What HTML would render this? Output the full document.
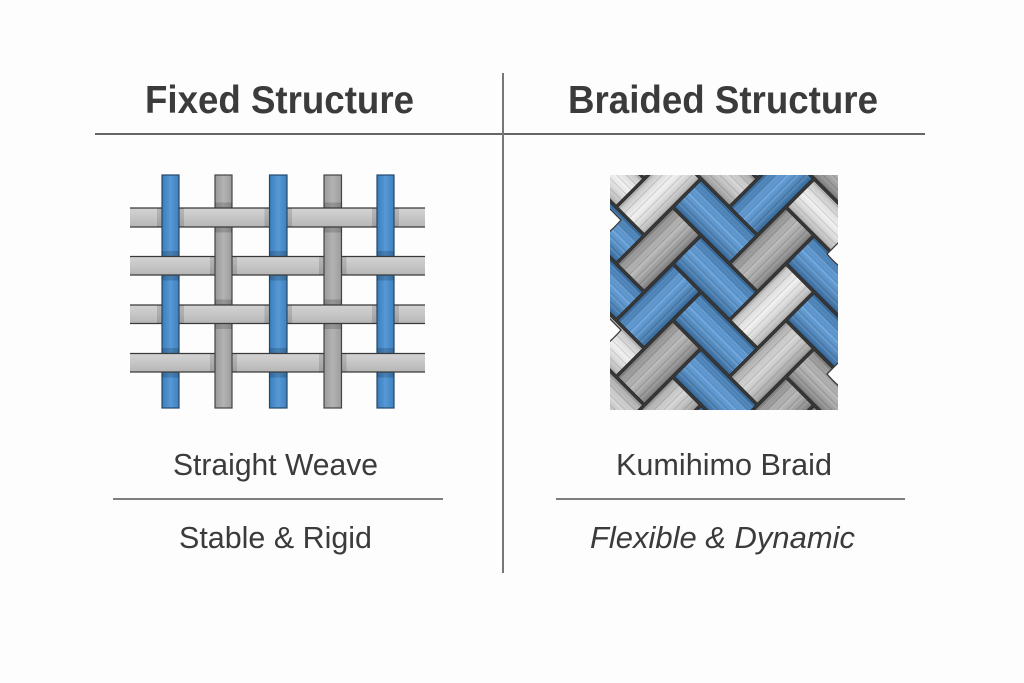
<!DOCTYPE html>
<html>
<head>
<meta charset="utf-8">
<style>
  html,body{margin:0;padding:0;background:#fdfdfd;}
  svg{display:block;}
  .t{font-family:"Liberation Sans",Arial,sans-serif;fill:#3b3b3b;}
</style>
</head>
<body>
<svg width="1024" height="683" viewBox="0 0 1024 683" xmlns="http://www.w3.org/2000/svg">
<defs>
  <linearGradient id="gb" x1="0" y1="0" x2="1" y2="0">
    <stop offset="0" stop-color="#3c7dba"/><stop offset="0.5" stop-color="#5699d6"/><stop offset="1" stop-color="#3f80bd"/>
  </linearGradient>
  <linearGradient id="gg" x1="0" y1="0" x2="1" y2="0">
    <stop offset="0" stop-color="#9a9a9a"/><stop offset="0.5" stop-color="#b3b3b3"/><stop offset="1" stop-color="#9c9c9c"/>
  </linearGradient>
  <linearGradient id="gh" x1="0" y1="0" x2="0" y2="1">
    <stop offset="0" stop-color="#d3d3d3"/><stop offset="0.5" stop-color="#c6c6c6"/><stop offset="1" stop-color="#b5b5b5"/>
  </linearGradient>
  <clipPath id="bc"><rect x="610" y="175" width="228" height="235"/></clipPath>
  <pattern id="fh" patternUnits="userSpaceOnUse" width="12" height="7">
    <path d="M0 3H12" stroke="#000" stroke-opacity="0.18" stroke-width="0.8"/>
    <path d="M0 5.2H12" stroke="#fff" stroke-opacity="0.28" stroke-width="0.6"/>
  </pattern>
  <pattern id="fv" patternUnits="userSpaceOnUse" width="7" height="12">
    <path d="M3 0V12" stroke="#000" stroke-opacity="0.18" stroke-width="0.8"/>
    <path d="M5.2 0V12" stroke="#fff" stroke-opacity="0.28" stroke-width="0.6"/>
  </pattern>
  <linearGradient id="sh" x1="0" y1="0" x2="0" y2="1">
    <stop offset="0" stop-color="#000" stop-opacity="0.22"/>
    <stop offset="0.45" stop-color="#fff" stop-opacity="0.14"/>
    <stop offset="1" stop-color="#000" stop-opacity="0.26"/>
  </linearGradient>
  <linearGradient id="sv" x1="0" y1="0" x2="1" y2="0">
    <stop offset="0" stop-color="#000" stop-opacity="0.22"/>
    <stop offset="0.45" stop-color="#fff" stop-opacity="0.14"/>
    <stop offset="1" stop-color="#000" stop-opacity="0.26"/>
  </linearGradient>
  <g id="ovh">
    <rect x="1.2" y="1.2" width="77.6" height="37.6" fill="url(#fh)"/>
    <rect x="1.2" y="1.2" width="77.6" height="37.6" fill="url(#sh)"/>
  </g>
  <g id="ovv">
    <rect x="1.2" y="1.2" width="37.6" height="77.6" fill="url(#fv)"/>
    <rect x="1.2" y="1.2" width="37.6" height="77.6" fill="url(#sv)"/>
  </g>
</defs>

<rect x="0" y="0" width="1024" height="683" fill="#fdfdfd"/>

<!-- Divider lines -->
<line x1="95" y1="134" x2="925" y2="134" stroke="#666" stroke-width="2"/>
<line x1="503" y1="73" x2="503" y2="573" stroke="#777" stroke-width="2"/>
<line x1="113" y1="499" x2="443" y2="499" stroke="#555" stroke-width="1.5"/>
<line x1="556" y1="499" x2="905" y2="499" stroke="#555" stroke-width="1.5"/>

<!-- Titles -->
<text class="t" x="145" y="113" font-size="39" font-weight="bold" textLength="269" lengthAdjust="spacingAndGlyphs">Fixed Structure</text>
<text class="t" x="568" y="113" font-size="39" font-weight="bold" textLength="310" lengthAdjust="spacingAndGlyphs">Braided Structure</text>

<!-- Labels -->
<text class="t" x="173" y="475" font-size="31" textLength="205" lengthAdjust="spacingAndGlyphs">Straight Weave</text>
<text class="t" x="179" y="548" font-size="31" textLength="193" lengthAdjust="spacingAndGlyphs">Stable &amp; Rigid</text>
<text class="t" x="616" y="475" font-size="31" textLength="216" lengthAdjust="spacingAndGlyphs">Kumihimo Braid</text>
<text class="t" x="590" y="548" font-size="31" font-style="italic" textLength="265" lengthAdjust="spacingAndGlyphs">Flexible &amp; Dynamic</text>

<!-- ===== Straight weave ===== -->
<g>
  <rect x="162" y="175" width="17" height="233" fill="url(#gb)" stroke="#24486c" stroke-width="1.2"/>
  <rect x="215" y="175" width="17" height="233" fill="url(#gg)" stroke="#444" stroke-width="1.2"/>
  <rect x="269.5" y="175" width="17.5" height="233" fill="url(#gb)" stroke="#24486c" stroke-width="1.2"/>
  <rect x="324" y="175" width="17.5" height="233" fill="url(#gg)" stroke="#444" stroke-width="1.2"/>
  <rect x="377" y="175" width="17" height="233" fill="url(#gb)" stroke="#24486c" stroke-width="1.2"/>

  <g fill="#000" fill-opacity="0.16">
    <rect x="162" y="251" width="17" height="5.5"/><rect x="162" y="275" width="17" height="5.5"/>
    <rect x="269.5" y="251" width="17.5" height="5.5"/><rect x="269.5" y="275" width="17.5" height="5.5"/>
    <rect x="377" y="251" width="17" height="5.5"/><rect x="377" y="275" width="17" height="5.5"/>
    <rect x="162" y="348" width="17" height="5.5"/><rect x="162" y="372" width="17" height="5.5"/>
    <rect x="269.5" y="348" width="17.5" height="5.5"/><rect x="269.5" y="372" width="17.5" height="5.5"/>
    <rect x="377" y="348" width="17" height="5.5"/><rect x="377" y="372" width="17" height="5.5"/>
    <rect x="215" y="202.5" width="17" height="5.5"/><rect x="215" y="227" width="17" height="5.5"/>
    <rect x="324" y="202.5" width="17.5" height="5.5"/><rect x="324" y="227" width="17.5" height="5.5"/>
    <rect x="215" y="299.5" width="17" height="5.5"/><rect x="215" y="323.5" width="17" height="5.5"/>
    <rect x="324" y="299.5" width="17.5" height="5.5"/><rect x="324" y="323.5" width="17.5" height="5.5"/>
  </g>

  <g>
    <rect x="130" y="208" width="295" height="19" fill="url(#gh)"/>
    <line x1="130" y1="208" x2="425" y2="208" stroke="#3a3a3a" stroke-width="1.3"/>
    <line x1="130" y1="227" x2="425" y2="227" stroke="#3a3a3a" stroke-width="1.3"/>
    <rect x="130" y="256.5" width="295" height="18.5" fill="url(#gh)"/>
    <line x1="130" y1="256.5" x2="425" y2="256.5" stroke="#3a3a3a" stroke-width="1.3"/>
    <line x1="130" y1="275" x2="425" y2="275" stroke="#3a3a3a" stroke-width="1.3"/>
    <rect x="130" y="305" width="295" height="18.5" fill="url(#gh)"/>
    <line x1="130" y1="305" x2="425" y2="305" stroke="#3a3a3a" stroke-width="1.3"/>
    <line x1="130" y1="323.5" x2="425" y2="323.5" stroke="#3a3a3a" stroke-width="1.3"/>
    <rect x="130" y="353.5" width="295" height="18.5" fill="url(#gh)"/>
    <line x1="130" y1="353.5" x2="425" y2="353.5" stroke="#3a3a3a" stroke-width="1.3"/>
    <line x1="130" y1="372" x2="425" y2="372" stroke="#3a3a3a" stroke-width="1.3"/>
  </g>

  <g fill="#000" fill-opacity="0.13">
    <rect x="157" y="208" width="5" height="19"/><rect x="179" y="208" width="5" height="19"/>
    <rect x="264.5" y="208" width="5" height="19"/><rect x="287" y="208" width="5" height="19"/>
    <rect x="372" y="208" width="5" height="19"/><rect x="394" y="208" width="5" height="19"/>
    <rect x="157" y="305" width="5" height="18.5"/><rect x="179" y="305" width="5" height="18.5"/>
    <rect x="264.5" y="305" width="5" height="18.5"/><rect x="287" y="305" width="5" height="18.5"/>
    <rect x="372" y="305" width="5" height="18.5"/><rect x="394" y="305" width="5" height="18.5"/>
    <rect x="210" y="256.5" width="5" height="18.5"/><rect x="232" y="256.5" width="5" height="18.5"/>
    <rect x="319" y="256.5" width="5" height="18.5"/><rect x="341.5" y="256.5" width="5" height="18.5"/>
    <rect x="210" y="353.5" width="5" height="18.5"/><rect x="232" y="353.5" width="5" height="18.5"/>
    <rect x="319" y="353.5" width="5" height="18.5"/><rect x="341.5" y="353.5" width="5" height="18.5"/>
  </g>

  <g>
    <rect x="162" y="207" width="17" height="21" fill="url(#gb)"/>
    <rect x="269.5" y="207" width="17.5" height="21" fill="url(#gb)"/>
    <rect x="377" y="207" width="17" height="21" fill="url(#gb)"/>
    <rect x="162" y="304" width="17" height="20.5" fill="url(#gb)"/>
    <rect x="269.5" y="304" width="17.5" height="20.5" fill="url(#gb)"/>
    <rect x="377" y="304" width="17" height="20.5" fill="url(#gb)"/>
    <g stroke="#24486c" stroke-width="1.2">
      <line x1="162" y1="207" x2="162" y2="228"/><line x1="179" y1="207" x2="179" y2="228"/>
      <line x1="269.5" y1="207" x2="269.5" y2="228"/><line x1="287" y1="207" x2="287" y2="228"/>
      <line x1="377" y1="207" x2="377" y2="228"/><line x1="394" y1="207" x2="394" y2="228"/>
      <line x1="162" y1="304" x2="162" y2="324.5"/><line x1="179" y1="304" x2="179" y2="324.5"/>
      <line x1="269.5" y1="304" x2="269.5" y2="324.5"/><line x1="287" y1="304" x2="287" y2="324.5"/>
      <line x1="377" y1="304" x2="377" y2="324.5"/><line x1="394" y1="304" x2="394" y2="324.5"/>
    </g>
  </g>
  <g>
    <rect x="215" y="255.5" width="17" height="20.5" fill="url(#gg)"/>
    <rect x="324" y="255.5" width="17.5" height="20.5" fill="url(#gg)"/>
    <rect x="215" y="352.5" width="17" height="20.5" fill="url(#gg)"/>
    <rect x="324" y="352.5" width="17.5" height="20.5" fill="url(#gg)"/>
    <g stroke="#444" stroke-width="1.2">
      <line x1="215" y1="255.5" x2="215" y2="276"/><line x1="232" y1="255.5" x2="232" y2="276"/>
      <line x1="324" y1="255.5" x2="324" y2="276"/><line x1="341.5" y1="255.5" x2="341.5" y2="276"/>
      <line x1="215" y1="352.5" x2="215" y2="373"/><line x1="232" y1="352.5" x2="232" y2="373"/>
      <line x1="324" y1="352.5" x2="324" y2="373"/><line x1="341.5" y1="352.5" x2="341.5" y2="373"/>
    </g>
  </g>
</g>

<!-- ===== Kumihimo braid ===== -->
<g clip-path="url(#bc)">
  <rect x="610" y="175" width="228" height="235" fill="#3a3a3a"/>
  <g transform="translate(701,292) rotate(45)" stroke="#2f2f2f" stroke-width="0.8">
    <rect x="-38.8" y="-198.8" width="77.6" height="37.6" fill="#a9a9a9"/><use href="#ovh" x="-40" y="-200"/>
    <rect x="1.2" y="-158.8" width="77.6" height="37.6" fill="#ededed"/><use href="#ovh" x="0" y="-160"/>
    <rect x="-118.8" y="-118.8" width="77.6" height="37.6" fill="#cdcdcd"/><use href="#ovh" x="-120" y="-120"/>
    <rect x="41.2" y="-118.8" width="77.6" height="37.6" fill="#4a8ed0"/><use href="#ovh" x="40" y="-120"/>
    <rect x="-78.8" y="-78.8" width="77.6" height="37.6" fill="#4a8ed0"/><use href="#ovh" x="-80" y="-80"/>
    <rect x="81.2" y="-78.8" width="77.6" height="37.6" fill="#4a8ed0"/><use href="#ovh" x="80" y="-80"/>
    <rect x="-198.8" y="-38.8" width="77.6" height="37.6" fill="#ededed"/><use href="#ovh" x="-200" y="-40"/>
    <rect x="-38.8" y="-38.8" width="77.6" height="37.6" fill="#4a8ed0"/><use href="#ovh" x="-40" y="-40"/>
    <rect x="121.2" y="-38.8" width="77.6" height="37.6" fill="#a9a9a9"/><use href="#ovh" x="120" y="-40"/>
    <rect x="-158.8" y="1.2" width="77.6" height="37.6" fill="#4a8ed0"/><use href="#ovh" x="-160" y="0"/>
    <rect x="1.2" y="1.2" width="77.6" height="37.6" fill="#4a8ed0"/><use href="#ovh" x="0" y="0"/>
    <rect x="161.2" y="1.2" width="77.6" height="37.6" fill="#a9a9a9"/><use href="#ovh" x="160" y="0"/>
    <rect x="-118.8" y="41.2" width="77.6" height="37.6" fill="#4a8ed0"/><use href="#ovh" x="-120" y="40"/>
    <rect x="41.2" y="41.2" width="77.6" height="37.6" fill="#4a8ed0"/><use href="#ovh" x="40" y="40"/>
    <rect x="-78.8" y="81.2" width="77.6" height="37.6" fill="#ededed"/><use href="#ovh" x="-80" y="80"/>
    <rect x="81.2" y="81.2" width="77.6" height="37.6" fill="#4a8ed0"/><use href="#ovh" x="80" y="80"/>
    <rect x="-38.8" y="121.2" width="77.6" height="37.6" fill="#cdcdcd"/><use href="#ovh" x="-40" y="120"/>
    <rect x="1.2" y="161.2" width="77.6" height="37.6" fill="#a9a9a9"/><use href="#ovh" x="0" y="160"/>

    <rect x="-158.8" y="-118.8" width="37.6" height="77.6" fill="#a9a9a9"/><use href="#ovv" x="-160" y="-120"/>
    <rect x="-118.8" y="-78.8" width="37.6" height="77.6" fill="#ededed"/><use href="#ovv" x="-120" y="-80"/>
    <rect x="-78.8" y="-198.8" width="37.6" height="77.6" fill="#4a8ed0"/><use href="#ovv" x="-80" y="-200"/>
    <rect x="-78.8" y="-38.8" width="37.6" height="77.6" fill="#a9a9a9"/><use href="#ovv" x="-80" y="-40"/>
    <rect x="-38.8" y="-158.8" width="37.6" height="77.6" fill="#4a8ed0"/><use href="#ovv" x="-40" y="-160"/>
    <rect x="-38.8" y="1.2" width="37.6" height="77.6" fill="#4a8ed0"/><use href="#ovv" x="-40" y="0"/>
    <rect x="1.2" y="-118.8" width="37.6" height="77.6" fill="#a9a9a9"/><use href="#ovv" x="0" y="-120"/>
    <rect x="1.2" y="41.2" width="37.6" height="77.6" fill="#a9a9a9"/><use href="#ovv" x="0" y="40"/>
    <rect x="41.2" y="-78.8" width="37.6" height="77.6" fill="#ededed"/><use href="#ovv" x="40" y="-80"/>
    <rect x="41.2" y="81.2" width="37.6" height="77.6" fill="#cdcdcd"/><use href="#ovv" x="40" y="80"/>
    <rect x="81.2" y="-38.8" width="37.6" height="77.6" fill="#cdcdcd"/><use href="#ovv" x="80" y="-40"/>
    <rect x="121.2" y="1.2" width="37.6" height="77.6" fill="#a9a9a9"/><use href="#ovv" x="120" y="0"/>
  </g>
  <!-- rounded side notches (subtle) -->
  <g fill="#fdfdfd" stroke="#3a3a3a" stroke-width="1.3">
    <path d="M607,206 Q616,215 621,220 Q616,226 607,234 Z"/>
    <path d="M607,316 Q616,325 621,330 Q616,336 607,344 Z"/>
    <path d="M841,240 Q832,249 827,254 Q832,260 841,268 Z"/>
    <path d="M841,360 Q832,369 827,374 Q832,380 841,388 Z"/>
  </g>
</g>
</svg>
</body>
</html>
